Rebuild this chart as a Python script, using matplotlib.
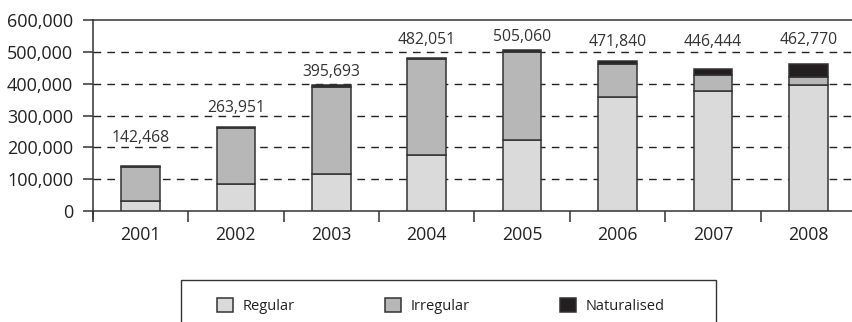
import numpy as np
import matplotlib
matplotlib.use('Agg')
import matplotlib.pyplot as plt
from matplotlib.patches import Rectangle
from matplotlib.ticker import FuncFormatter

plt.rcParams['font.family'] = ['Open Sans', 'DejaVu Sans']

# Stocks per year, split by status
years = ['2001', '2002', '2003', '2004', '2005', '2006', '2007', '2008']
regular = [32000, 86000, 117000, 176000, 222000, 359000, 378000, 396000]
irregular = [107000, 174000, 274000, 301000, 276000, 102000, 49000, 24000]
totals = [142468, 263951, 395693, 482051, 505060, 471840, 446444, 462770]
naturalised = [t - r - i for t, r, i in zip(totals, regular, irregular)]

# where each total label sits (data units, label centre)
label_y = [229000, 324000, 437000, 538000, 547000, 531000, 531000, 538000]

c_reg = '#dadada'
c_irr = '#b7b7b7'
c_nat = '#231f20'
edge = '#333333'

fig = plt.figure(figsize=(8.52, 3.22), dpi=100)
ax = fig.add_axes([92.7 / 852, 111 / 322, 763.5 / 852, 191 / 322])

x = np.arange(len(years))
w = 0.405
reg = np.array(regular)
irr = np.array(irregular)
nat = np.array(naturalised)

ax.bar(x, reg, w, color=c_reg, edgecolor=edge, linewidth=1.1, label='Regular', zorder=3)
ax.bar(x, irr, w, bottom=reg, color=c_irr, edgecolor=edge, linewidth=1.1, label='Irregular', zorder=3)
ax.bar(x, nat, w, bottom=reg + irr, color=c_nat, edgecolor=edge, linewidth=1.1, label='Naturalised', zorder=3)

for xi, t, ly in zip(x, totals, label_y):
    ax.text(xi, ly, f'{t:,}', ha='center', va='center', fontsize=11.3, color='#333333')

ax.set_xlim(-0.5, len(years) - 0.5)
ax.set_ylim(0, 600000)
ax.set_yticks(np.arange(0, 600001, 100000))
ax.yaxis.set_major_formatter(FuncFormatter(lambda v, p: f'{int(v):,}'))

# year labels in the middle, tick marks on the boundaries
ax.set_xticks(np.arange(-0.5, len(years), 1.0))
ax.set_xticklabels([])
ax.set_xticks(x, minor=True)
ax.set_xticklabels(years, minor=True)
ax.tick_params(axis='x', which='major', direction='out', length=8, width=1.1, color=edge)
ax.tick_params(axis='x', which='minor', length=0, pad=11, labelsize=12.7, labelcolor='#222222')
ax.tick_params(axis='y', direction='out', length=7.5, width=1.1, color=edge,
               labelsize=13, labelcolor='#222222', pad=6.5)

for yv in range(100000, 600000, 100000):
    ax.axhline(yv, color='#222222', linewidth=1.0, dashes=(5.5, 4.5), zorder=1)

for s in ['left', 'bottom', 'top']:
    ax.spines[s].set_color(edge)
    ax.spines[s].set_linewidth(1.1)
ax.spines['right'].set_visible(False)
ax.spines['left'].set_bounds(-26000, 600000)
ax.spines['left'].set_clip_on(False)

# legend box running off the bottom
fig.patches.append(Rectangle((181 / 852, -0.1), 535 / 852, 0.1 + 42 / 322,
                             transform=fig.transFigure, facecolor='white',
                             edgecolor='#333333', linewidth=1.0))
handles, labels = ax.get_legend_handles_labels()
fig.legend(handles, labels, loc='center left', bbox_to_anchor=(210 / 852, 16 / 322),
           ncol=3, frameon=False, borderpad=0, fontsize=10.5, handlelength=1.05,
           handleheight=1.05, handletextpad=0.7, columnspacing=6.2,
           labelcolor='#222222')

fig.savefig('out.png', dpi=100)
